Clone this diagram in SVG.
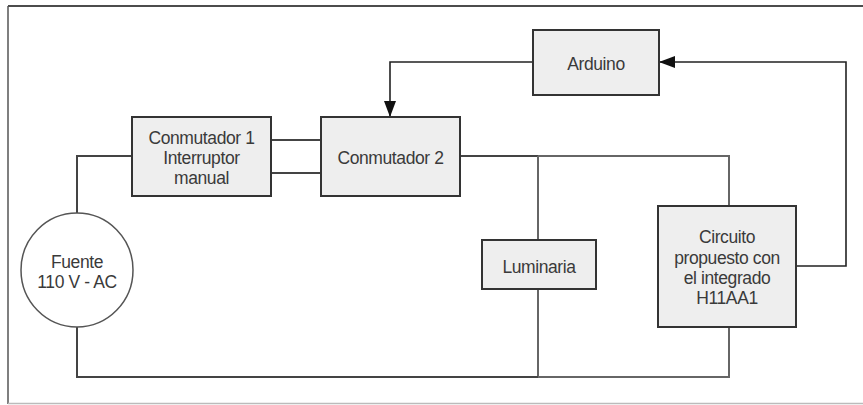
<svg xmlns="http://www.w3.org/2000/svg" width="863" height="405" viewBox="0 0 863 405">
  <style>
    .box { fill: #eeeeee; stroke: #333333; stroke-width: 2; }
    .src { fill: #ffffff; stroke: #555555; stroke-width: 1.5; }
    .wire { fill: none; stroke: #444444; stroke-width: 2; }
    .wire-l { fill: none; stroke: #666666; stroke-width: 2; }
    .sig { fill: none; stroke: #222222; stroke-width: 1.6; }
    .lbl { font-family: "Liberation Sans", Arial, sans-serif; font-size: 17.5px; fill: #3a3a3a; text-anchor: middle; letter-spacing: -0.4px; }
  </style>
  <defs>
    <marker id="arrowBig" viewBox="0 0 16 12" refX="16" refY="6" markerWidth="16" markerHeight="12" orient="auto" markerUnits="userSpaceOnUse">
      <path d="M0,0 L16,6 L0,12 Z" fill="#111111"/>
    </marker>
  </defs>

  <!-- page frame -->
  <rect x="0" y="0" width="863" height="405" fill="#ffffff"/>
  <line x1="8" y1="6" x2="863" y2="6" stroke="#111111" stroke-width="1.5"/>
  <line x1="8" y1="6" x2="8" y2="404" stroke="#555555" stroke-width="1.5"/>
  <line x1="8" y1="403.5" x2="863" y2="403.5" stroke="#bbbbbb" stroke-width="1.5"/>

  <g id="connectors">
    <!-- power circuit -->
    <path class="wire" d="M77,213 V156 H132"/>
    <path class="wire" d="M271,140 H321"/>
    <path class="wire" d="M271,173 H321"/>
    <path class="wire" d="M460,156 H538"/>
    <path class="wire-l" d="M538,156 H729 V206"/>
    <path class="wire-l" d="M538,156 V240"/>
    <path class="wire-l" d="M538,289 V377"/>
    <path class="wire" d="M77,327 V377 H538"/>
    <path class="wire-l" d="M729,327 V377 H538"/>
    <!-- control signals -->
    <path class="sig" d="M796,266 H846 V62 H659" marker-end="url(#arrowBig)"/>
    <path class="sig" d="M533,62 H390 V117" marker-end="url(#arrowBig)"/>
  </g>

  <g id="fuente">
    <ellipse class="src" cx="77" cy="270" rx="56" ry="57"/>
    <text class="lbl" x="77" y="268">Fuente</text>
    <text class="lbl" x="77" y="288">110 V - AC</text>
  </g>

  <g id="conmutador1">
    <rect class="box" x="132" y="117" width="139" height="79"/>
    <text class="lbl" x="201.5" y="144">Conmutador 1</text>
    <text class="lbl" x="201.5" y="164">Interruptor</text>
    <text class="lbl" x="201.5" y="184">manual</text>
  </g>

  <g id="conmutador2">
    <rect class="box" x="321" y="117" width="139" height="79"/>
    <text class="lbl" x="390.5" y="164">Conmutador 2</text>
  </g>

  <g id="arduino">
    <rect class="box" x="533" y="30" width="126" height="65"/>
    <text class="lbl" x="596" y="70">Arduino</text>
  </g>

  <g id="luminaria">
    <rect class="box" x="482" y="240" width="114" height="49"/>
    <text class="lbl" x="539" y="273">Luminaria</text>
  </g>

  <g id="circuito">
    <rect class="box" x="658" y="206" width="138" height="121"/>
    <text class="lbl" x="727" y="243">Circuito</text>
    <text class="lbl" x="727" y="264">propuesto con</text>
    <text class="lbl" x="727" y="284">el integrado</text>
    <text class="lbl" x="727" y="304">H11AA1</text>
  </g>
</svg>
